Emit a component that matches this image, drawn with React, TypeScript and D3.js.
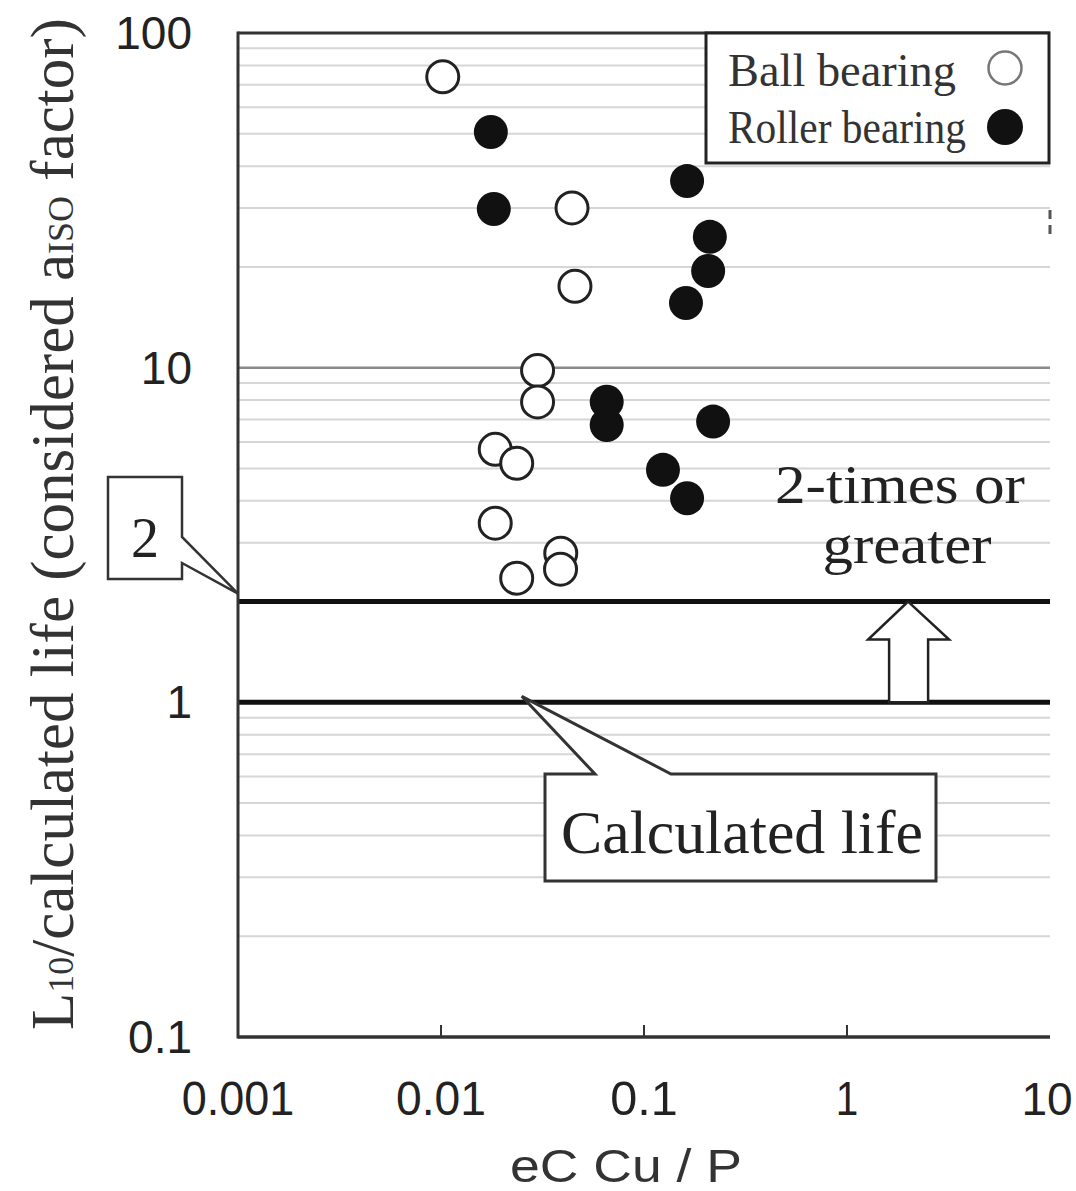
import React from "react";
import * as d3 from "d3";

// Ball bearing test results (open circles)
const ballX = [0.0102, 0.0442, 0.0457, 0.0299, 0.0299, 0.0185, 0.0236, 0.0185, 0.0389, 0.0388, 0.0236];
const ballY = [74, 30, 17.5, 9.8, 7.9, 5.7, 5.18, 3.43, 2.79, 2.5, 2.35];

// Roller bearing test results (filled circles)
const rollerX = [0.0176, 0.0182, 0.163, 0.211, 0.207, 0.161, 0.0655, 0.0655, 0.219, 0.124, 0.163];
const rollerY = [50.6, 29.8, 36.1, 24.6, 19.45, 15.6, 7.91, 6.74, 6.9, 4.95, 4.07];

const xTickValues = [0.001, 0.01, 0.1, 1, 10];
const xTickLabels = ["0.001", "0.01", "0.1", "1", "10"];
const yTickValues = [0.1, 1, 10, 100];
const yTickLabels = ["0.1", "1", "10", "100"];

const referenceLevels = [1, 2];
const arrowAt = 2;

const SERIF = "'Liberation Serif', 'Times New Roman', serif";
const SANS = "'Liberation Sans', Arial, sans-serif";

export default function App() {
  const width = 1076;
  const height = 1191;
  const left = 238, right = 1050, top = 33, bottom = 1037;

  const x = d3.scaleLog().domain([0.001, 10]).range([left, right]);
  const y = d3.scaleLog().domain([0.1, 100]).range([bottom, top]);

  const isMajor = (v) => Math.abs(Math.log10(v) - Math.round(Math.log10(v))) < 1e-6;
  const minorGrid = y.ticks().filter((v) => !isMajor(v) && Math.abs(v - 2) > 1e-6);

  const tipX = x(arrowAt);
  const y2 = y(referenceLevels[1]);
  const y1 = y(referenceLevels[0]);
  const headY = y2 + 38;
  const arrowPath = `M${tipX},${y2} L${tipX + 41},${headY} H${tipX + 20} V${y1} H${tipX - 19} V${headY} H${tipX - 40} Z`;

  const call2Tip = [x(0.001), y(2) - 8];
  const call2 = `M108,477 H182 V537 L${call2Tip[0]},${call2Tip[1]} L182,563 V579 H108 Z`;

  const callLifeTip = [x(0.025), y(1) - 6];
  const callLife = `M545,774 H595 L${callLifeTip[0]},${callLifeTip[1]} L671,774 H936 V881 H545 Z`;

  return (
    <svg
      width={width}
      height={height}
      style={{ position: "absolute", left: 0, top: 0, background: "#fff" }}
    >
      {/* minor log grid */}
      {minorGrid.map((v, i) => (
        <line key={"g" + i} x1={left} x2={right} y1={y(v)} y2={y(v)} stroke="#d6d6d6" strokeWidth={2} />
      ))}
      <line x1={left} x2={right} y1={y(10)} y2={y(10)} stroke="#8a8a8a" strokeWidth={2.5} />
      <line x1={left} x2={right} y1={y(100)} y2={y(100)} stroke="#333" strokeWidth={3} />

      {/* reference lines */}
      {referenceLevels.map((v) => (
        <line key={"r" + v} x1={left} x2={right} y1={y(v)} y2={y(v)} stroke="#111" strokeWidth={5} />
      ))}

      {/* axes */}
      <line x1={left} x2={left} y1={top - 1.5} y2={bottom + 1.5} stroke="#333" strokeWidth={3} />
      <line x1={left} x2={right} y1={bottom} y2={bottom} stroke="#333" strokeWidth={3.5} />
      {xTickValues.slice(1, -1).map((v) => (
        <line key={"t" + v} x1={x(v)} x2={x(v)} y1={bottom} y2={bottom - 12} stroke="#333" strokeWidth={2} />
      ))}
      <line x1={right} x2={right} y1={210} y2={240} stroke="#555" strokeWidth={3} strokeDasharray="9 6" />

      {xTickValues.map((v, i) => {
        const last = i === xTickValues.length - 1;
        return last ? (
          <text key={"xl" + v} x={x(v) - 3} y={1115} textAnchor="middle"
            fontFamily={SANS} fontSize={46} fill="#222">
            {xTickLabels[i]}
          </text>
        ) : (
          <text key={"xl" + v} x={x(v)} y={1115} textAnchor="middle"
            fontFamily={SANS} fontSize={48} fill="#222"
            textLength={xTickLabels[i].length * 22.5} lengthAdjust="spacingAndGlyphs">
            {xTickLabels[i]}
          </text>
        );
      })}
      {yTickValues.map((v, i) => (
        <text key={"yl" + v} x={192} y={y(v) + 16} textAnchor="end" fontFamily={SANS} fontSize={46} fill="#222">
          {yTickLabels[i]}
        </text>
      ))}

      <text x={626} y={1182} textAnchor="middle" fontFamily={SANS} fontSize={46} fill="#333"
        textLength={232} lengthAdjust="spacingAndGlyphs">
        eC Cu / P
      </text>

      <text transform="translate(73,1030) rotate(-90)" fontFamily={SERIF} fontSize={61} fill="#333">
        L<tspan fontSize={36}>10</tspan>/calculated life (considered a<tspan fontSize={36}>ISO</tspan> factor)
      </text>

      {/* annotations */}
      <path d={arrowPath} fill="#fff" stroke="#222" strokeWidth={2.5} strokeLinejoin="miter" />
      <text x={900} y={503} textAnchor="middle" fontFamily={SERIF} fontSize={54} fill="#222"
        textLength={250} lengthAdjust="spacingAndGlyphs">2-times or</text>
      <text x={907} y={563} textAnchor="middle" fontFamily={SERIF} fontSize={54} fill="#222"
        textLength={169} lengthAdjust="spacingAndGlyphs">greater</text>

      <path d={call2} fill="#fff" stroke="#333" strokeWidth={2.5} />
      <text x={145} y={557} textAnchor="middle" fontFamily={SERIF} fontSize={56} fill="#222">2</text>

      <path d={callLife} fill="#fff" stroke="#333" strokeWidth={3} />
      <text x={742} y={853} textAnchor="middle" fontFamily={SERIF} fontSize={62} fill="#222"
        textLength={362} lengthAdjust="spacingAndGlyphs">Calculated life</text>

      {/* data */}
      {ballX.map((v, i) => (
        <circle key={"b" + i} cx={x(v)} cy={y(ballY[i])} r={16} fill="#fff" stroke="#222" strokeWidth={3} />
      ))}
      {rollerX.map((v, i) => (
        <circle key={"c" + i} cx={x(v)} cy={y(rollerY[i])} r={17} fill="#111" />
      ))}

      {/* legend */}
      <rect x={706} y={33} width={343} height={130} fill="#fff" stroke="#222" strokeWidth={3} />
      <text x={728} y={86} fontFamily={SERIF} fontSize={47} fill="#333"
        textLength={228} lengthAdjust="spacingAndGlyphs">Ball bearing</text>
      <text x={728} y={143} fontFamily={SERIF} fontSize={47} fill="#333"
        textLength={238} lengthAdjust="spacingAndGlyphs">Roller bearing</text>
      <circle cx={1005} cy={68} r={16.5} fill="#fff" stroke="#777" strokeWidth={2.5} />
      <circle cx={1005} cy={127} r={18} fill="#111" />
    </svg>
  );
}
